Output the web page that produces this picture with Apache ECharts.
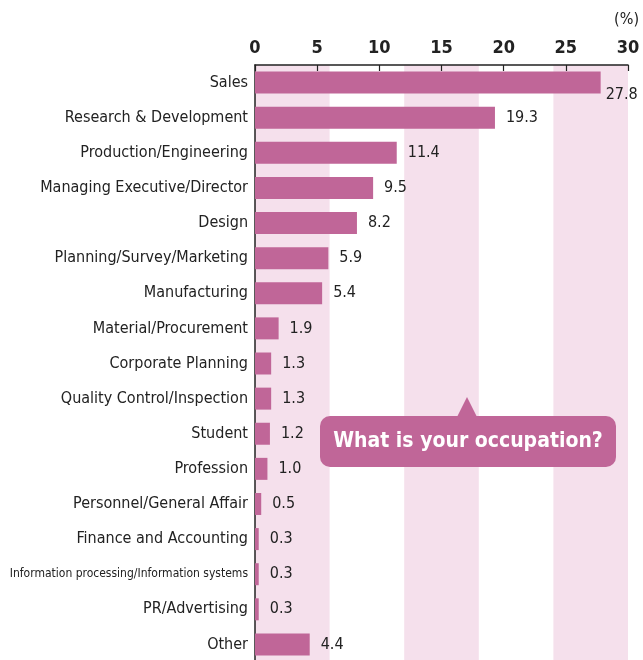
<!DOCTYPE html>
<html lang="en">
<head>
  <meta charset="UTF-8">
  <title>What is your occupation?</title>
  <style>
    html, body { margin: 0; padding: 0; background: #fff; }
    #main { width: 643px; height: 660px; }
  </style>
</head>
<body>
  <div id="main"></div>
  <script src="https://cdn.jsdelivr.net/npm/echarts@6/dist/echarts.min.js"></script>
  <script>
    var categories = [
      'Sales', 'Research & Development', 'Production/Engineering',
      'Managing Executive/Director', 'Design', 'Planning/Survey/Marketing',
      'Manufacturing', 'Material/Procurement', 'Corporate Planning',
      'Quality Control/Inspection', 'Student', 'Profession',
      'Personnel/General Affair', 'Finance and Accounting',
      'Information processing/Information systems', 'PR/Advertising', 'Other'
    ];
    var values = [27.8, 19.3, 11.4, 9.5, 8.2, 5.9, 5.4, 1.9, 1.3, 1.3, 1.2, 1.0, 0.5, 0.3, 0.3, 0.3, 4.4];
    var xTicks = [0, 5, 10, 15, 20, 25, 30];

    var FONT = '"DejaVu Sans Condensed", Roboto, sans-serif';
    var PINK = '#c06698';
    var BAND = '#f5e0ec';

    var chart = echarts.init(document.getElementById('main'));

    var yData = categories.map(function (c) {
      if (c.length > 30) return { value: c, textStyle: { fontSize: 12 } };
      return c;
    });

    var barData = values.map(function (v, i) {
      if (i === 0) {
        return { value: v, label: { offset: [-6, 12] } };
      }
      return v;
    });

    var option = {
      animation: false,
      grid: { left: 255, right: 15, top: 65, height: 597, containLabel: false, outerBoundsMode: 'none' },
      xAxis: [
        {
          type: 'value', position: 'top', min: xTicks[0], max: xTicks[xTicks.length - 1], interval: 5,
          axisLine: { show: true, lineStyle: { color: '#222', width: 1.5 } },
          axisTick: { show: true, inside: true, length: 6, lineStyle: { color: '#222', width: 1.2 } },
          axisLabel: { color: '#222', fontSize: 18, fontFamily: FONT, fontWeight: 'bold', margin: 8 },
          splitLine: { show: false }
        },
        {
          type: 'value', position: 'bottom', min: 0, max: 30, interval: 6,
          axisLine: { show: false }, axisTick: { show: false }, axisLabel: { show: false },
          splitLine: { show: false },
          splitArea: { show: true, areaStyle: { color: [BAND, 'rgba(255,255,255,0)'] } }
        }
      ],
      yAxis: {
        type: 'category', inverse: true, data: yData,
        axisLine: { show: true, lineStyle: { color: '#222', width: 1.5 } },
        axisTick: { show: false },
        axisLabel: { color: '#222', fontSize: 16, fontFamily: FONT, margin: 7, padding: [4, 0, 0, 0] }
      },
      series: [{
        type: 'bar', xAxisIndex: 0, data: barData, barWidth: 22,
        itemStyle: { color: PINK },
        label: {
          show: true, position: 'right', distance: 11, color: '#222',
          fontSize: 16, fontFamily: FONT, padding: [4, 0, 0, 0],
          formatter: function (p) { return p.value.toFixed(1); }
        },
        z: 3
      }],
      graphic: [
        {
          type: 'text', right: 4, top: 12, z: 100,
          style: { text: '(%)', fill: '#222', font: '16px ' + FONT }
        },
        {
          type: 'polygon', z: 100,
          shape: { points: [[457, 417], [467, 397], [477, 417]] },
          style: { fill: PINK }
        },
        {
          type: 'rect', z: 100,
          shape: { x: 320, y: 416, width: 296, height: 51, r: 10 },
          style: { fill: PINK }
        },
        {
          type: 'text', z: 101, x: 468, y: 442,
          style: {
            text: 'What is your occupation?', fill: '#fff', align: 'center', verticalAlign: 'middle',
            font: 'bold 21px ' + FONT
          }
        }
      ]
    };

    chart.setOption(option);
  </script>
</body>
</html>
